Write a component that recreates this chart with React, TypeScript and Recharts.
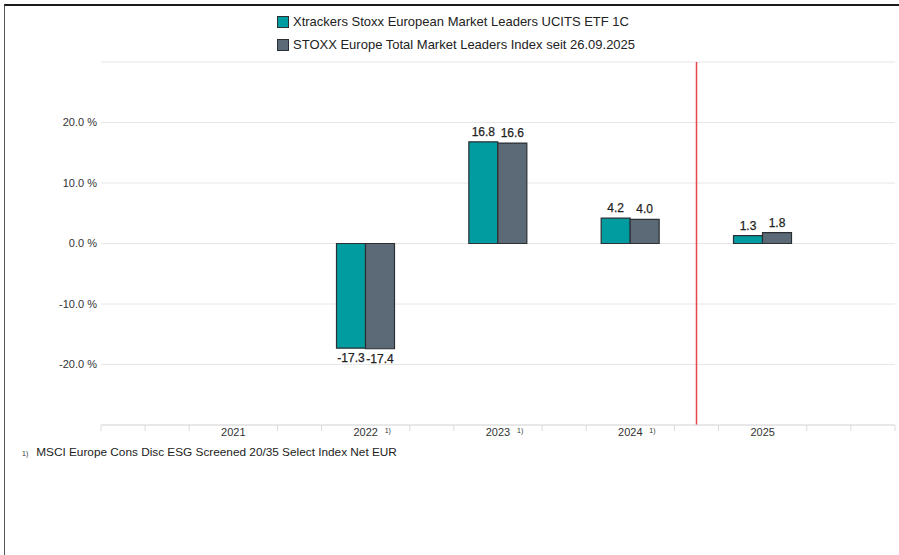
import { BarChart, Bar, XAxis, YAxis, CartesianGrid, ReferenceLine, LabelList } from 'recharts';

const years = ['2021', '2022', '2023', '2024', '2025'];
const footnoteYears = ['2022', '2023', '2024'];
const etfReturns = [null, -17.3, 16.8, 4.2, 1.3];
const indexReturns = [null, -17.4, 16.6, 4.0, 1.8];
const yTicks = [-30, -20, -10, 0, 10, 20, 30];
const etfName = 'Xtrackers Stoxx European Market Leaders UCITS ETF 1C';
const indexName = 'STOXX Europe Total Market Leaders Index seit 26.09.2025';
const footnote = 'MSCI Europe Cons Disc ESG Screened 20/35 Select Index Net EUR';
const markerYear = 2024.5;

const TEAL = '#009ca0';
const SLATE = '#5b6a76';
const EDGE = '#2b3035';

const data = years.map((year, i) => ({ x: Number(year), etf: etfReturns[i], index: indexReturns[i] }));

// time axis spanning one year before/after the categories, minor ticks every third of a year
const timeTicks = Array.from({ length: 19 }, (_, i) => 2020 + i / 3);

const TimeTick = (props: any) => {
  const { x, y, payload } = props;
  const v = payload.value;
  const rounded = Math.round(v);
  const isYear = Math.abs(v - rounded) < 1e-6 && years.includes(String(rounded));
  if (!isYear) {
    return <line x1={x} x2={x} y1={y} y2={y + 6} stroke="#dcdcdc" strokeWidth={1} />;
  }
  const label = String(rounded);
  return (
    <g>
      <text x={x} y={y + 11} textAnchor="middle" fontSize={11} fill="#333">
        {label}
      </text>
      {footnoteYears.includes(label) && (
        <text x={x + 19} y={y + 8} fontSize={7} fill="#333">
          1)
        </text>
      )}
    </g>
  );
};

const ValueLabel = (props: any) => {
  const { x, y, width, height, value } = props;
  if (value === null || value === undefined) return null;
  const top = Math.min(y, y + height);
  const bottom = Math.max(y, y + height);
  const cx = x + width / 2;
  const ty = value >= 0 ? top - 6 : bottom + 14;
  return (
    <text x={cx} y={ty} textAnchor="middle" fontSize={12} fill="#1e1e1e" stroke="#1e1e1e" strokeWidth={0.25}>
      {value.toFixed(1)}
    </text>
  );
};

const LegendRow = ({ color, text }: { color: string; text: string }) => (
  <div style={{ display: 'flex', alignItems: 'center', height: 23 }}>
    <span
      style={{
        display: 'inline-block',
        width: 10,
        height: 10,
        background: color,
        border: `1px solid ${EDGE}`,
        marginRight: 4,
      }}
    />
    <span style={{ fontSize: 13, color: '#222' }}>{text}</span>
  </div>
);

export default function App() {
  return (
    <div
      style={{
        position: 'relative',
        width: 899,
        height: 555,
        background: '#fff',
        fontFamily: '"Liberation Sans", Arial, sans-serif',
        overflow: 'hidden',
      }}
    >
      <style>{`body{margin:0}`}</style>
      <div
        style={{
          position: 'absolute',
          left: 4,
          top: 4,
          right: 0,
          bottom: 0,
          borderTop: '2px solid #1b1b1b',
          borderLeft: '1.5px solid #555',
        }}
      />
      <div style={{ position: 'absolute', left: 277, top: 10 }}>
        <LegendRow color={TEAL} text={etfName} />
        <LegendRow color={SLATE} text={indexName} />
      </div>
      <BarChart
        width={899}
        height={555}
        data={data}
        margin={{ top: 62, right: 4, left: 0, bottom: 100 }}
        barSize={29}
        barGap={0}
        style={{ position: 'absolute', left: 0, top: 0 }}
      >
        <CartesianGrid vertical={false} stroke="#e6e6e6" />
        <XAxis
          dataKey="x"
          type="number"
          domain={[2020, 2026]}
          allowDataOverflow
          ticks={timeTicks}
          interval={0}
          height={30}
          tickLine={false}
          tickSize={0}
          tickMargin={0}
          axisLine={{ stroke: '#dcdcdc' }}
          tick={<TimeTick />}
        />
        <YAxis
          type="number"
          domain={[-30, 30]}
          ticks={yTicks}
          interval={0}
          width={101}
          axisLine={false}
          tickLine={false}
          tickSize={0}
          tickMargin={4}
          tick={{ fontSize: 11, fill: '#333' }}
          tickFormatter={(v: number) => (Math.abs(v) === 30 ? '' : `${v.toFixed(1)} %`)}
        />
        <Bar dataKey="etf" fill={TEAL} stroke={EDGE} strokeWidth={1.2} isAnimationActive={false}>
          <LabelList dataKey="etf" content={<ValueLabel />} />
        </Bar>
        <Bar dataKey="index" fill={SLATE} stroke={EDGE} strokeWidth={1.2} isAnimationActive={false}>
          <LabelList dataKey="index" content={<ValueLabel />} />
        </Bar>
        <ReferenceLine x={markerYear} stroke="#e8474a" strokeWidth={1.5} />
      </BarChart>
      <div style={{ position: 'absolute', left: 22, top: 445, display: 'flex', alignItems: 'baseline' }}>
        <span style={{ fontSize: 7, color: '#333', marginRight: 8 }}>1)</span>
        <span style={{ fontSize: 11.8, color: '#222' }}>{footnote}</span>
      </div>
    </div>
  );
}
